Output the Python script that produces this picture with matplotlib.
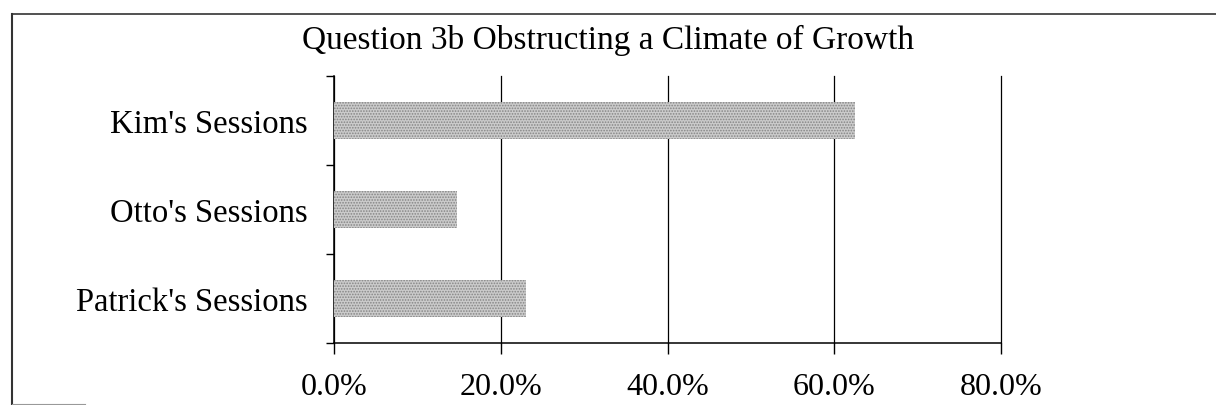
import matplotlib
matplotlib.use("Agg")
import matplotlib.pyplot as plt
from matplotlib.lines import Line2D
from matplotlib.ticker import FixedLocator, PercentFormatter

# share of sessions per presenter, bottom to top
sessions = ["Patrick's Sessions", "Otto's Sessions", "Kim's Sessions"]
shares = [23.0, 14.7, 62.5]
xticks = [0, 20, 40, 60, 80]

plt.rcParams['font.family'] = ['Liberation Serif', 'DejaVu Serif']
plt.rcParams['hatch.color'] = '#858585'
plt.rcParams['hatch.linewidth'] = 0.8

fig = plt.figure(figsize=(12.16, 4.06), dpi=100)
ax = fig.add_axes([0.2747, 0.1527, 0.5485, 0.6576])

ypos = range(len(sessions))
ax.barh(ypos, shares, height=0.42, color='#cbcbcb', hatch='......',
        linewidth=0, zorder=3)

ax.set_xlim(0, 80)
ax.set_ylim(-0.5, len(sessions) - 0.5)
ax.set_xticks(xticks)
ax.xaxis.set_major_formatter(PercentFormatter(decimals=1))
ax.set_yticks(list(ypos))
ax.set_yticklabels(sessions)
ax.yaxis.set_minor_locator(FixedLocator([-0.5, 0.5, 1.5, 2.5]))

ax.tick_params(axis='x', direction='out', length=8, width=1, pad=13, labelsize=23)
ax.tick_params(axis='y', which='major', length=0, pad=19, labelsize=23.5)
ax.tick_params(axis='y', which='minor', direction='out', length=6, width=1)

ax.grid(axis='x', color='black', linewidth=0.9, zorder=1)
for line in ax.get_xgridlines():
    line.set_clip_on(False)
for side in ['top', 'right']:
    ax.spines[side].set_visible(False)
for side in ['left', 'bottom']:
    ax.spines[side].set_linewidth(1.1)

fig.text(0.5, 1 - 40 / 406, "Question 3b Obstructing a Climate of Growth",
         ha='center', va='center', fontsize=24)

# outer frame, cut off at the right and bottom
fig.add_artist(Line2D([12 / 1216, 1.0], [1 - 15 / 406] * 2, color='#333333', lw=1.2))
fig.add_artist(Line2D([12 / 1216] * 2, [0.0, 1 - 15 / 406], color='#333333', lw=1.5))
fig.add_artist(Line2D([12 / 1216, 85 / 1216], [1 / 406] * 2, color='#999999', lw=0.8))

fig.savefig("out.png", dpi=100, facecolor='white')
